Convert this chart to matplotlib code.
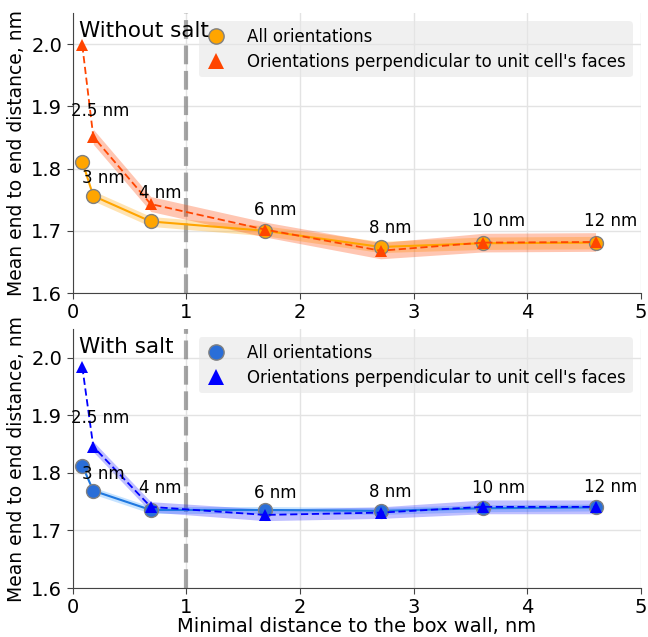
import numpy as np
import matplotlib
matplotlib.use('Agg')
import matplotlib.pyplot as plt
from matplotlib.lines import Line2D

#%% data
box_labels = ['2.5 nm', '3 nm', '4 nm', '6 nm', '8 nm', '10 nm', '12 nm']
wall_dist = [0.086, 0.183, 0.688, 1.693, 2.71, 3.61, 4.60]

# without salt
nosalt_all = [1.811, 1.756, 1.715, 1.700, 1.674, 1.680, 1.681]
nosalt_all_err = [np.nan, 0.008, 0.008, 0.008, 0.009, 0.010, 0.010]
nosalt_perp = [1.998, 1.851, 1.743, 1.702, 1.668, 1.681, 1.682]
nosalt_perp_err = [np.nan, 0.012, 0.012, 0.012, 0.013, 0.015, 0.015]

# with salt
salt_all = [1.8125, 1.769, 1.7356, 1.7356, 1.734, 1.7386, 1.740]
salt_all_err = [np.nan, 0.006, 0.006, 0.006, 0.006, 0.006, 0.006]
salt_perp = [1.984, 1.8455, 1.741, 1.727, 1.731, 1.741, 1.741]
salt_perp_err = [np.nan, 0.009, 0.009, 0.010, 0.010, 0.012, 0.012]

# label offsets (pixels) from the circle markers
lab_dx = [18, 10, 10, 10, 10, 16, 15]
lab_dy_top = [51, 18, 28, 21, 19, 22, 22]
lab_dy_bot = [48, 17, 22, 17, 19, 20, 20]

fig = plt.figure(figsize=(6.48, 6.37), dpi=100)
ax1 = fig.add_axes([0.1119, 0.540, 0.8773, 0.4396])
ax2 = fig.add_axes([0.1119, 0.0769, 0.8773, 0.4066])


def draw_panel(ax, y_all, e_all, y_perp, e_perp, c_all, c_line, c_perp,
               c_band_all, c_band_perp, band_alpha, title, lab_dy):
    x = np.array(wall_dist)
    y_all = np.array(y_all); e_all = np.array(e_all)
    y_perp = np.array(y_perp); e_perp = np.array(e_perp)

    ax.fill_between(x, y_all - e_all, y_all + e_all, color=c_band_all,
                    alpha=band_alpha, lw=0, zorder=2)
    ax.fill_between(x, y_perp - e_perp, y_perp + e_perp, color=c_band_perp,
                    alpha=band_alpha, lw=0, zorder=2)
    ax.plot(x, y_all, '-', color=c_line, lw=1.5, zorder=3)
    ax.plot(x, y_all, 'o', color=c_all, ms=10, mec='gray', mew=1, zorder=4)
    ax.plot(x, y_perp, '--', color=c_perp, lw=1.3, dashes=(4, 2), zorder=5)
    ax.plot(x, y_perp, '^', color=c_perp, ms=8.5, mew=0, zorder=6)

    for i, lab in enumerate(box_labels):
        ax.annotate(lab, (x[i], y_all[i]), xytext=(lab_dx[i], lab_dy[i]),
                    textcoords='offset pixels', ha='center', va='center',
                    fontsize=12, zorder=7)

    ax.axvline(1, color='gray', lw=3, ls=(0, (4.5, 1.6)), alpha=0.7, zorder=1)

    ax.set_xlim(0, 5)
    ax.set_ylim(1.6, 2.05)
    ax.set_yticks([1.6, 1.7, 1.8, 1.9, 2.0])
    ax.set_xticks([0, 1, 2, 3, 4, 5])
    ax.grid(True, color='#e3e3e3', lw=1)
    ax.set_axisbelow(True)
    for s in ['top', 'right']:
        ax.spines[s].set_visible(False)
    for s in ['left', 'bottom']:
        ax.spines[s].set_color('#444444')
    ax.tick_params(labelsize=14, length=4, color='#444444')
    ax.set_ylabel('Mean end to end distance, nm', fontsize=13.5)

    handles = [Line2D([], [], ls='', marker='o', color=c_all, mec='gray',
                      ms=11, mew=1),
               Line2D([], [], ls='', marker='^', color=c_perp, ms=11, mew=0)]
    leg = ax.legend(handles, ['All orientations',
                              "Orientations perpendicular to unit cell's faces"],
                    loc='upper right', fontsize=12, frameon=True,
                    facecolor='#e5e5e5', edgecolor='none', framealpha=0.55,
                    handlelength=1.2, handletextpad=1.3, borderaxespad=0.5,
                    labelspacing=0.4)
    leg.set_zorder(9)
    ax.text(0.012, 0.97, title, transform=ax.transAxes, fontsize=15.5,
            ha='left', va='top', zorder=10)


draw_panel(ax1, nosalt_all, nosalt_all_err, nosalt_perp, nosalt_perp_err,
           'orange', 'orange', 'orangered', 'orange', 'orangered', 0.3,
           'Without salt', lab_dy_top)
draw_panel(ax2, salt_all, salt_all_err, salt_perp, salt_perp_err,
           '#2a6ed8', '#1f78e0', 'blue', 'dodgerblue', 'blue', 0.25,
           'With salt', lab_dy_bot)

ax2.set_xlabel('Minimal distance to the box wall, nm', fontsize=14, labelpad=0)

fig.savefig('out.png', dpi=100)
